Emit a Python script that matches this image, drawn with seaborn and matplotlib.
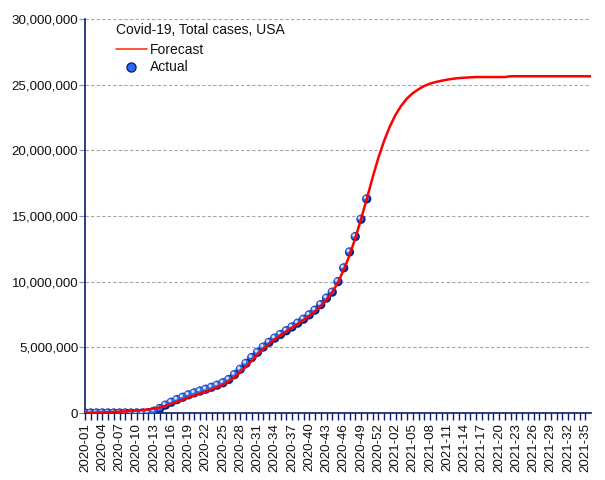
import matplotlib
matplotlib.use("Agg")
import matplotlib.pyplot as plt
import matplotlib.transforms as mtransforms
from matplotlib.lines import Line2D
import numpy as np
import pandas as pd
import seaborn as sns

# ---- data ----
weeks = [f"2020-{w:02d}" for w in range(1, 54)] + [f"2021-{w:02d}" for w in range(1, 37)]

actual_cases = [
    0.0, 0.0, 0.0, 0.0, 0.0, 0.0, 0.0, 0.0001, 0.0005, 0.003,
    0.0035, 0.033, 0.14, 0.34, 0.60, 0.82, 1.02, 1.20, 1.38, 1.53,
    1.67, 1.81, 1.96, 2.12, 2.30, 2.55, 2.92, 3.33, 3.78, 4.22,
    4.62, 5.02, 5.38, 5.70, 5.98, 6.26, 6.55, 6.84, 7.14, 7.47,
    7.83, 8.25, 8.75, 9.20, 10.00, 11.05, 12.26, 13.43, 14.75, 16.30,
]  # millions

forecast_cases = [
    0.02, 0.03, 0.04, 0.05, 0.06, 0.08, 0.10, 0.12, 0.15, 0.18,
    0.22, 0.27, 0.34, 0.43, 0.55, 0.70, 0.86, 1.02, 1.18, 1.33,
    1.48, 1.63, 1.79, 1.96, 2.15, 2.40, 2.74, 3.10, 3.52, 3.97,
    4.42, 4.86, 5.26, 5.60, 5.92, 6.21, 6.49, 6.78, 7.08, 7.39,
    7.73, 8.12, 8.62, 9.20, 9.95, 10.90, 12.00, 13.30, 14.75, 16.30,
    17.90, 19.40, 20.70, 21.80, 22.70, 23.40, 23.95, 24.35, 24.65, 24.90,
    25.08, 25.20, 25.30, 25.38, 25.45, 25.50, 25.53, 25.56, 25.58, 25.58,
    25.58, 25.58, 25.58, 25.58, 25.64, 25.64, 25.64, 25.64, 25.64, 25.64,
    25.64, 25.64, 25.64, 25.64, 25.64, 25.64, 25.64, 25.64, 25.64,
]  # millions

title_text = "Covid-19, Total cases, USA"
yticks_vals = [0, 5, 10, 15, 20, 25, 30]  # millions

df_f = pd.DataFrame({"idx": np.arange(len(forecast_cases)),
                     "cases": np.array(forecast_cases) * 1e6})
df_a = pd.DataFrame({"idx": np.arange(len(actual_cases)),
                     "cases": np.array(actual_cases) * 1e6})

# ---- style ----
sns.set_theme(style="white")
plt.rcParams["font.family"] = ["Liberation Sans", "DejaVu Sans"]

navy = "#0b1a6b"
fig = plt.figure(figsize=(6.05, 4.8), dpi=100)
ax = fig.add_axes([85 / 605, 1 - 413 / 480, (591 - 85) / 605, (413 - 19) / 480])

# grid
for v in yticks_vals[1:]:
    ax.axhline(v * 1e6, color="#a6a6a6", lw=0.8, ls=(0, (3, 2)), zorder=0)

# actual points as shaded spheres
ms = 44
sns.scatterplot(data=df_a, x="idx", y="cases", ax=ax, s=ms, color="#0a1f80",
                edgecolor="none", zorder=3, legend=False)
off1 = mtransforms.offset_copy(ax.transData, fig=fig, x=-0.5, y=0.5, units="points")
ax.scatter(df_a["idx"], df_a["cases"], s=ms * 0.55, color="#2a6cf0",
           edgecolor="none", zorder=4, transform=off1)
off2 = mtransforms.offset_copy(ax.transData, fig=fig, x=-1.0, y=1.0, units="points")
ax.scatter(df_a["idx"], df_a["cases"], s=ms * 0.12, color="#cfe2ff",
           edgecolor="none", zorder=5, transform=off2)

# forecast line
sns.lineplot(data=df_f, x="idx", y="cases", ax=ax, color="#ff0000", lw=1.8,
             zorder=6, legend=False)

ax.set_xlim(0, 88)
ax.set_ylim(0, 30e6)
ax.set_xlabel("")
ax.set_ylabel("")

ax.set_yticks([v * 1e6 for v in yticks_vals])
ax.set_yticklabels([f"{v * 1000000:,}" for v in yticks_vals], fontsize=9.6, color="#111111")
ax.set_xticks(np.arange(0, 88, 3))
ax.set_xticklabels(weeks[0:88:3], rotation=90, fontsize=9.6, color="#111111")
ax.set_xticks(np.arange(0, 88), minor=True)

ax.tick_params(axis="y", which="major", direction="out", length=4, width=0.8,
               color="#7f8fbf", pad=0.8, left=True)
ax.tick_params(axis="x", which="both", direction="out", length=5, width=1,
               color=navy, pad=2, bottom=True)

for s in ["top", "right"]:
    ax.spines[s].set_visible(False)
for s in ["left", "bottom"]:
    ax.spines[s].set_color(navy)
    ax.spines[s].set_linewidth(1.2)

# legend
h_line = Line2D([], [], color="#ff3a10", lw=1.2)
h_pt = Line2D([], [], ls="none", marker="o", markersize=6.5, markerfacecolor="#2a6cf0",
              markeredgecolor="#0a1f80", markeredgewidth=1.0)
leg = ax.legend([h_line, h_pt], ["Forecast", "Actual"], title=title_text,
                loc="upper left", bbox_to_anchor=(0.045, 1.012), frameon=False,
                fontsize=10, title_fontsize=10, handlelength=2.2,
                handletextpad=0.25, labelspacing=0.28, alignment="left",
                borderaxespad=0.2)
leg._legend_box.sep = leg._legend_box.sep + 1.5
leg.get_title().set_color("#111111")
for t in leg.get_texts():
    t.set_color("#111111")

fig.savefig("out.png", dpi=100)
